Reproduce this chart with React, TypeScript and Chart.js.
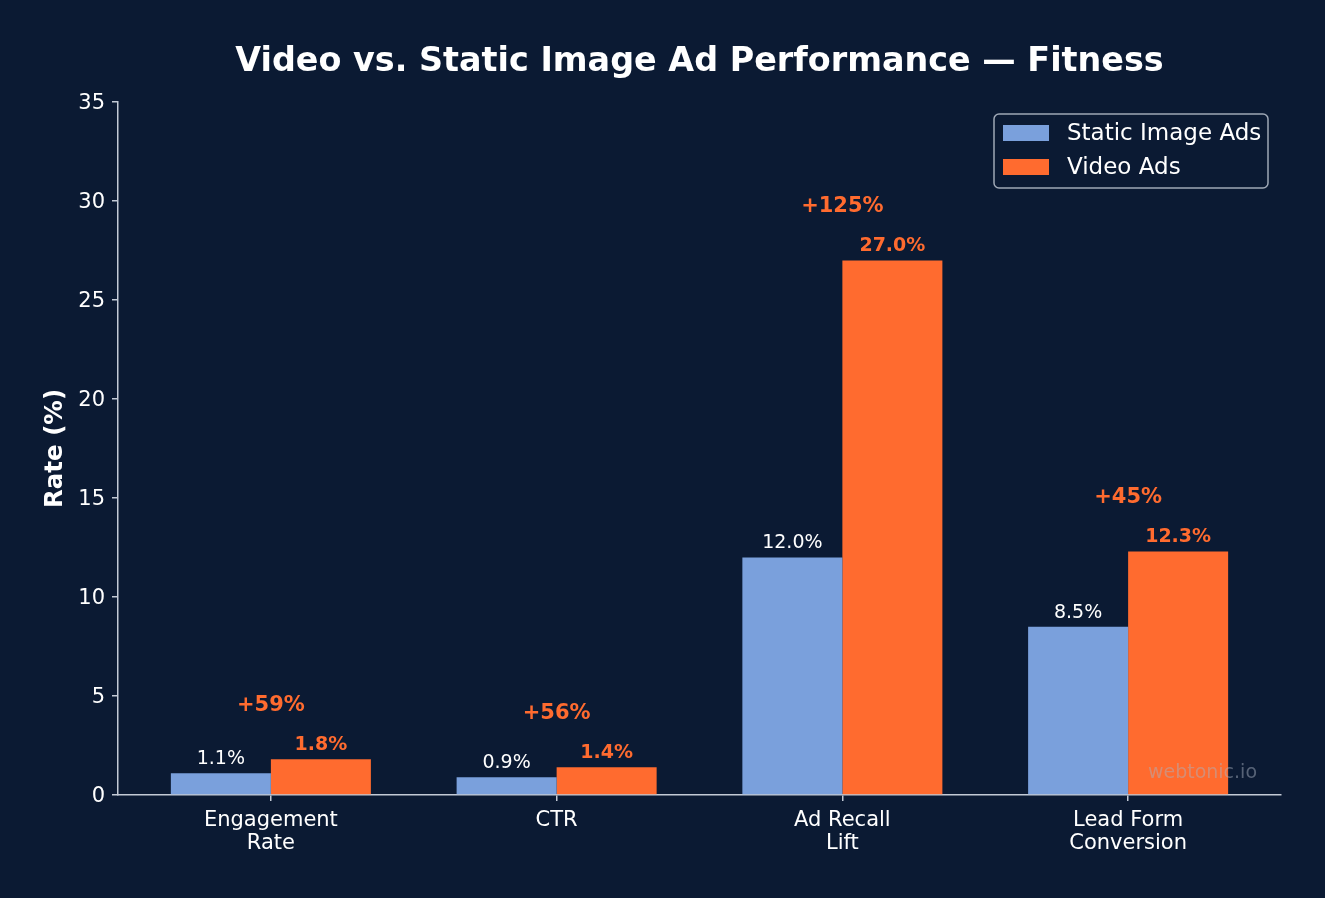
import React, { useEffect, useRef } from 'react';
import { Chart, registerables } from 'chart.js';

Chart.register(...registerables);

const categories: string[][] = [['Engagement', 'Rate'], ['CTR'], ['Ad Recall', 'Lift'], ['Lead Form', 'Conversion']];
const staticValues = [1.1, 0.9, 12.0, 8.5];
const videoValues = [1.8, 1.4, 27.0, 12.3];
const liftLabels = ['+59%', '+56%', '+125%', '+45%'];
const seriesNames = ['Static Image Ads', 'Video Ads'];
const yTickValues = [0, 5, 10, 15, 20, 25, 30, 35];

const BG = '#0b1a33';
const STATIC_COLOR = '#7aa0dc';
const VIDEO_COLOR = '#ff6b2f';
const AXIS_COLOR = '#c3cad6';
const TEXT_COLOR = '#ffffff';
const FONT = "'DejaVu Sans', sans-serif";

const drawPlugin = {
  id: 'customDraw',
  beforeDraw(chart: any) {
    const { ctx, width, height } = chart;
    ctx.save();
    ctx.fillStyle = BG;
    ctx.fillRect(0, 0, width, height);
    ctx.restore();
  },
  afterDatasetsDraw(chart: any) {
    const { ctx, chartArea, scales } = chart;
    const y = scales.y;
    const x = scales.x;
    ctx.save();
    const metaS = chart.getDatasetMeta(0);
    const metaV = chart.getDatasetMeta(1);
    ctx.textAlign = 'center';
    ctx.textBaseline = 'middle';
    metaS.data.forEach((bar: any, i: number) => {
      ctx.font = `19px ${FONT}`;
      ctx.fillStyle = TEXT_COLOR;
      ctx.fillText(`${staticValues[i].toFixed(1)}%`, bar.x, bar.y - 14);
    });
    metaV.data.forEach((bar: any, i: number) => {
      ctx.font = `bold 19px ${FONT}`;
      ctx.fillStyle = VIDEO_COLOR;
      ctx.fillText(`${videoValues[i].toFixed(1)}%`, bar.x, bar.y - 14);
    });
    liftLabels.forEach((lbl, i) => {
      const top = Math.max(staticValues[i], videoValues[i]);
      ctx.font = `bold 21px ${FONT}`;
      ctx.fillStyle = VIDEO_COLOR;
      ctx.fillText(lbl, x.getPixelForValue(i), y.getPixelForValue(top + 2.72));
    });
    ctx.font = `19px ${FONT}`;
    ctx.fillStyle = 'rgba(170,178,192,0.48)';
    ctx.textAlign = 'right';
    ctx.fillText('webtonic.io', chartArea.right - 24, chartArea.bottom - 22);
    ctx.restore();
  },
  afterDraw(chart: any) {
    const { ctx, chartArea } = chart;
    ctx.save();
    ctx.fillStyle = TEXT_COLOR;
    ctx.font = `bold 33.4px ${FONT}`;
    ctx.textAlign = 'center';
    ctx.textBaseline = 'middle';
    ctx.fillText('Video vs. Static Image Ad Performance \u2014 Fitness', (chartArea.left + chartArea.right) / 2, 62);
    ctx.save();
    ctx.translate(56, (chartArea.top + chartArea.bottom) / 2);
    ctx.rotate(-Math.PI / 2);
    ctx.font = `bold 24.5px ${FONT}`;
    ctx.fillText('Rate (%)', 0, 0);
    ctx.restore();
    const lx = 994, ly = 114, lw = 274, lh = 74, r = 5;
    ctx.beginPath();
    ctx.moveTo(lx + r, ly);
    ctx.arcTo(lx + lw, ly, lx + lw, ly + lh, r);
    ctx.arcTo(lx + lw, ly + lh, lx, ly + lh, r);
    ctx.arcTo(lx, ly + lh, lx, ly, r);
    ctx.arcTo(lx, ly, lx + lw, ly, r);
    ctx.closePath();
    ctx.fillStyle = BG;
    ctx.fill();
    ctx.strokeStyle = 'rgba(195,202,214,0.8)';
    ctx.lineWidth = 1.5;
    ctx.stroke();
    const colors = [STATIC_COLOR, VIDEO_COLOR];
    seriesNames.forEach((name, i) => {
      const cy = 133 + i * 34;
      ctx.fillStyle = colors[i];
      ctx.fillRect(1003, cy - 8, 46, 16);
      ctx.fillStyle = TEXT_COLOR;
      ctx.font = `23px ${FONT}`;
      ctx.textAlign = 'left';
      ctx.textBaseline = 'middle';
      ctx.fillText(name, 1067, cy + 1);
    });
    ctx.restore();
  },
};

export default function App() {
  const ref = useRef<HTMLCanvasElement | null>(null);
  useEffect(() => {
    document.body.style.margin = '0';
    document.body.style.background = BG;
    if (!ref.current) return;
    const chart = new Chart(ref.current, {
      type: 'bar',
      data: {
        datasets: [
          {
            label: seriesNames[0],
            data: staticValues.map((v, i) => ({ x: i, y: v })),
            backgroundColor: STATIC_COLOR,
            borderWidth: 0,
            inflateAmount: 0,
            categoryPercentage: 0.7,
            barPercentage: 1,
          },
          {
            label: seriesNames[1],
            data: videoValues.map((v, i) => ({ x: i, y: v })),
            backgroundColor: VIDEO_COLOR,
            borderWidth: 0,
            inflateAmount: 0,
            categoryPercentage: 0.7,
            barPercentage: 1,
          },
        ],
      },
      options: {
        animation: false,
        responsive: false,
        events: [],
        layout: { padding: { top: 102, right: 44, left: 0, bottom: 0 } },
        plugins: { legend: { display: false }, tooltip: { enabled: false }, title: { display: false } },
        scales: {
          x: {
            type: 'linear',
            min: -0.535,
            max: 3.535,
            offset: false,
            afterBuildTicks: (scale: any) => {
              scale.ticks = categories.map((_, i) => ({ value: i }));
            },
            afterFit: (scale: any) => {
              scale.height = 103;
            },
            ticks: {
              color: TEXT_COLOR,
              font: { family: FONT, size: 21, lineHeight: 1.1 },
              padding: 8,
              maxRotation: 0,
              autoSkip: false,
              callback: (value: any) => categories[value as number] ?? '',
            },
            grid: { display: true, offset: false, drawOnChartArea: false, drawTicks: true, tickLength: 6, color: AXIS_COLOR, lineWidth: 1.5 },
            border: { display: true, color: AXIS_COLOR, width: 1.5 },
          },
          y: {
            min: 0,
            max: 35,
            afterBuildTicks: (scale: any) => {
              scale.ticks = yTickValues.map((v) => ({ value: v }));
            },
            afterFit: (scale: any) => {
              scale.width = 118;
            },
            ticks: {
              color: TEXT_COLOR,
              font: { family: FONT, size: 21 },
              padding: 7,
              labelOffset: 2,
              callback: (value: any) => String(value),
            },
            grid: { display: true, drawOnChartArea: false, drawTicks: true, tickLength: 6, color: AXIS_COLOR, lineWidth: 1.5 },
            border: { display: true, color: AXIS_COLOR, width: 1.5 },
          },
        },
      },
      plugins: [drawPlugin],
    } as any);
    return () => chart.destroy();
  }, []);
  return (
    <div style={{ width: 1325, height: 898, background: BG }}>
      <canvas ref={ref} width={1325} height={898} style={{ display: 'block' }} />
    </div>
  );
}
